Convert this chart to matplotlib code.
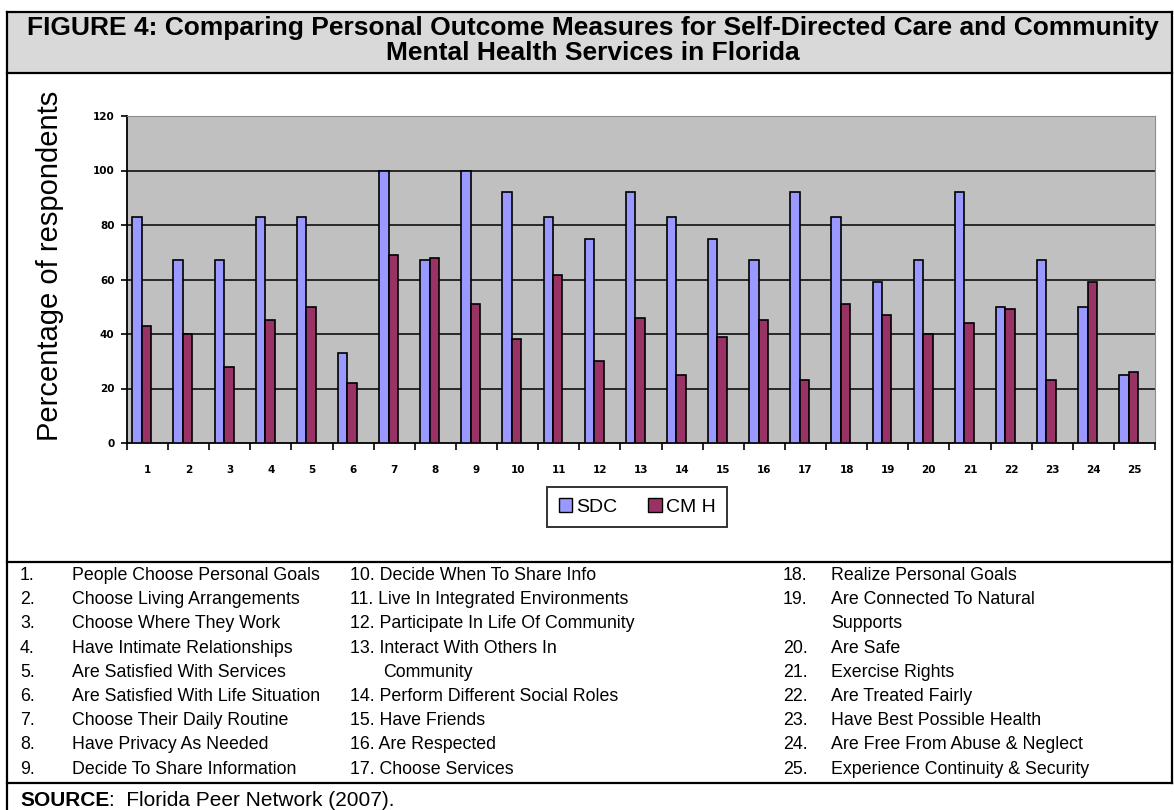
import matplotlib
matplotlib.use("Agg")
import matplotlib.pyplot as plt
from matplotlib.lines import Line2D
from matplotlib.patches import Rectangle, Patch
import numpy as np

# -----------------------------------------------
# Data
# -----------------------------------------------
measures = [str(i) for i in range(1, 26)]
sdc = [83, 67, 67, 83, 83, 33, 100, 67, 100, 92, 83, 75, 92,
       83, 75, 67, 92, 83, 59, 67, 92, 50, 67, 50, 25]
cmh = [43, 40, 28, 45, 50, 22, 69, 68, 51, 38, 61.5, 30, 46,
       25, 39, 45, 23, 51, 47, 40, 44, 49, 23, 59, 26]
yticks = [0, 20, 40, 60, 80, 100, 120]
series_names = ["SDC", "CM H"]

title_lines = [
    "FIGURE 4: Comparing Personal Outcome Measures for Self-Directed Care and Community",
    "Mental Health Services in Florida",
]
ylabel = "Percentage of respondents"

# key table, one list per column: (number, text) per row, "" number = wrapped line
key_col1 = [
    ("1.", "People Choose Personal Goals"),
    ("2.", "Choose Living Arrangements"),
    ("3.", "Choose Where They Work"),
    ("4.", "Have Intimate Relationships"),
    ("5.", "Are Satisfied With Services"),
    ("6.", "Are Satisfied With Life Situation"),
    ("7.", "Choose Their Daily Routine"),
    ("8.", "Have Privacy As Needed"),
    ("9.", "Decide To Share Information"),
]
key_col2 = [
    ("10.", "Decide When To Share Info"),
    ("11.", "Live In Integrated Environments"),
    ("12.", "Participate In Life Of Community"),
    ("13.", "Interact With Others In"),
    ("", "Community"),
    ("14.", "Perform Different Social Roles"),
    ("15.", "Have Friends"),
    ("16.", "Are Respected"),
    ("17.", "Choose Services"),
]
key_col3 = [
    ("18.", "Realize Personal Goals"),
    ("19.", "Are Connected To Natural"),
    ("", "Supports"),
    ("20.", "Are Safe"),
    ("21.", "Exercise Rights"),
    ("22.", "Are Treated Fairly"),
    ("23.", "Have Best Possible Health"),
    ("24.", "Are Free From Abuse & Neglect"),
    ("25.", "Experience Continuity & Security"),
]
source_label = "SOURCE"
source_text = ":  Florida Peer Network (2007)."

# -----------------------------------------------
# Figure, pixel helpers
# -----------------------------------------------
W, H = 1174, 810
plt.rcParams["font.family"] = ["Liberation Sans", "DejaVu Sans"]
fig = plt.figure(figsize=(W / 100, H / 100), dpi=100)
fig.patch.set_facecolor("white")

def fx(px):
    return px / W

def fy(py):
    return 1 - py / H

# frame and title band
L, R = 7, 1172
fig.add_artist(Rectangle((fx(L), fy(73)), fx(R - L), (73 - 12) / H,
                         transform=fig.transFigure, facecolor="#d9d9d9",
                         edgecolor="none", zorder=0))
for y in [12, 73, 562, 783]:
    fig.add_artist(Line2D([fx(L), fx(R)], [fy(y), fy(y)], transform=fig.transFigure,
                          color="black", lw=1.6))
fig.add_artist(Line2D([fx(L), fx(L)], [fy(12), 0], transform=fig.transFigure,
                      color="black", lw=1.6))
fig.add_artist(Line2D([fx(R), fx(R)], [fy(12), fy(783)], transform=fig.transFigure,
                      color="black", lw=1.6))

fig.text(fx(593), fy(28), title_lines[0], ha="center", va="center",
         fontsize=19, fontweight="bold")
fig.text(fx(593), fy(53), title_lines[1], ha="center", va="center",
         fontsize=19, fontweight="bold")

# -----------------------------------------------
# Bar chart
# -----------------------------------------------
ax = fig.add_axes([fx(127), fy(443), (1155 - 127) / W, (443 - 116) / H])
ax.set_facecolor("#c0c0c0")
x = np.arange(1, len(measures) + 1)
bw = 0.23
ax.bar(x - 0.255, sdc, bw, color="#9999ff", edgecolor="black", lw=1.2, zorder=3)
ax.bar(x - 0.025, cmh, bw, color="#993366", edgecolor="black", lw=1.2, zorder=3)

ax.set_ylim(0, 120)
ax.set_xlim(0.5, len(measures) + 0.5)
ax.set_yticks(yticks)
ax.set_yticklabels([str(v) for v in yticks], fontsize=7.5, fontweight="bold",
                   family="DejaVu Sans")
ax.set_xticks(x)
ax.set_xticklabels(measures, fontsize=7.5, fontweight="bold", family="DejaVu Sans")
ax.set_xticks(np.arange(0.5, len(measures) + 1), minor=True)
ax.tick_params(axis="x", which="major", length=0, pad=16)
ax.tick_params(axis="x", which="minor", length=5, width=1.2, direction="out")
ax.tick_params(axis="y", length=4, width=1.2, direction="out", pad=5)
for v in yticks[1:-1]:
    ax.axhline(v, color="black", lw=1.1, zorder=1)
ax.spines["left"].set_color("black")
ax.spines["bottom"].set_color("black")
ax.spines["left"].set_linewidth(1.3)
ax.spines["bottom"].set_linewidth(1.3)
ax.spines["top"].set_color("#8c8c8c")
ax.spines["right"].set_color("#8c8c8c")

fig.text(fx(50), fy(266), ylabel, rotation=90, ha="center", va="center",
         fontsize=21, fontweight="light")

handles = [Patch(facecolor="#9999ff", edgecolor="black"),
           Patch(facecolor="#993366", edgecolor="black")]
leg = fig.legend(handles, series_names, loc="center",
                 bbox_to_anchor=(fx(637), fy(507)), ncol=2, fontsize=14,
                 frameon=True, fancybox=False, edgecolor="black",
                 handlelength=0.7, handleheight=0.7, handletextpad=0.2,
                 columnspacing=1.6, borderpad=0.6)
leg.get_frame().set_linewidth(1.4)

# -----------------------------------------------
# Key table and source line
# -----------------------------------------------
row0, step = 580, 24.2
key_fs = 12.8
cols = [(key_col1, 20, 72, False), (key_col2, 350, 383, True),
        (key_col3, 783, 831, False)]
for rows, xnum, xtxt, joined in cols:
    for i, (num, txt) in enumerate(rows):
        yb = fy(row0 + i * step)
        if num and joined:
            fig.text(fx(xnum), yb, num + " " + txt, fontsize=key_fs, va="baseline")
        else:
            if num:
                fig.text(fx(xnum), yb, num, fontsize=key_fs, va="baseline")
            fig.text(fx(xtxt), yb, txt, fontsize=key_fs, va="baseline")

t = fig.text(fx(20), fy(806), source_label, fontsize=15, fontweight="bold",
             va="baseline")
fig.canvas.draw()
bb = t.get_window_extent()
fig.text(bb.x1 / W, fy(806), source_text, fontsize=15, va="baseline")

fig.savefig("out.png", dpi=100)
